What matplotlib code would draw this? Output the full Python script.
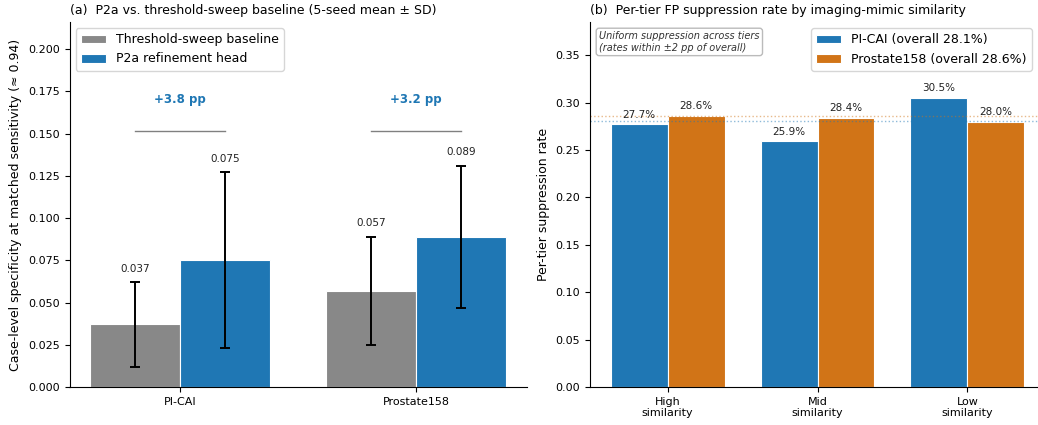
import matplotlib
matplotlib.use("Agg")
import matplotlib.pyplot as plt
import numpy as np

# panel (a)
datasets = ["PI-CAI", "Prostate158"]
base_mean = [0.037, 0.057]
base_sd = [0.025, 0.032]
p2a_mean = [0.075, 0.089]
p2a_sd = [0.052, 0.042]
gain_labels = ["+3.8 pp", "+3.2 pp"]

# panel (b)
tiers = ["High\nsimilarity", "Mid\nsimilarity", "Low\nsimilarity"]
picai_rate = [0.277, 0.259, 0.305]
p158_rate = [0.286, 0.284, 0.280]
picai_overall = 0.281
p158_overall = 0.286

GRAY = "#888888"
BLUE = "#1f77b4"
ORANGE = "#d17417"

fig = plt.figure(figsize=(10.38, 4.25), dpi=100)
ax1 = fig.add_axes([69.5/1038, 38/425, 457/1038, 365/425])
ax2 = fig.add_axes([590/1038, 38/425, 455/1038, 365/425])

w = 0.38
ekw = dict(lw=1.4, capthick=1.4, ecolor="black")
x = np.arange(len(datasets))
ax1.bar(x - w/2, base_mean, w, color=GRAY, edgecolor="white", linewidth=0.8,
        yerr=base_sd, capsize=3.5, error_kw=ekw, label="Threshold-sweep baseline")
ax1.bar(x + w/2, p2a_mean, w, color=BLUE, edgecolor="white", linewidth=0.8,
        yerr=p2a_sd, capsize=3.5, error_kw=ekw, label="P2a refinement head")
for i in range(len(datasets)):
    ax1.text(x[i] - w/2, base_mean[i] + base_sd[i] + 0.005, f"{base_mean[i]:.3f}",
             ha="center", va="bottom", fontsize=7.5, color="#222222")
    ax1.text(x[i] + w/2, p2a_mean[i] + p2a_sd[i] + 0.005, f"{p2a_mean[i]:.3f}",
             ha="center", va="bottom", fontsize=7.5, color="#222222")
    ax1.plot([x[i] - w/2, x[i] + w/2], [0.1515, 0.1515], color="gray", lw=1)
    ax1.text(x[i], 0.170, gain_labels[i], ha="center", va="center",
             fontsize=8.5, fontweight="bold", color=BLUE)
ax1.set_xticks(x)
ax1.set_xticklabels(datasets, fontsize=8)
ax1.set_ylim(0, 0.216)
ax1.set_yticks(np.arange(0, 0.201, 0.025))
ax1.tick_params(axis="y", labelsize=8)
ax1.set_ylabel("Case-level specificity at matched sensitivity (≈ 0.94)", fontsize=9)
ax1.set_title("(a)  P2a vs. threshold-sweep baseline (5-seed mean ± SD)", fontsize=9, loc="left")
ax1.legend(loc="upper left", fontsize=9)
ax1.spines["top"].set_visible(False)
ax1.spines["right"].set_visible(False)

xt = np.arange(len(tiers))
ax2.bar(xt - w/2, picai_rate, w, color=BLUE, edgecolor="white", linewidth=0.8,
        label=f"PI-CAI (overall {picai_overall*100:.1f}%)")
ax2.bar(xt + w/2, p158_rate, w, color=ORANGE, edgecolor="white", linewidth=0.8,
        label=f"Prostate158 (overall {p158_overall*100:.1f}%)")
ax2.axhline(picai_overall, color=BLUE, ls=":", lw=1, alpha=0.5)
ax2.axhline(p158_overall, color=ORANGE, ls=":", lw=1, alpha=0.5)
for i in range(len(tiers)):
    ax2.text(xt[i] - w/2, picai_rate[i] + 0.005, f"{picai_rate[i]*100:.1f}%",
             ha="center", va="bottom", fontsize=7.5, color="#222222")
    ax2.text(xt[i] + w/2, p158_rate[i] + 0.005, f"{p158_rate[i]*100:.1f}%",
             ha="center", va="bottom", fontsize=7.5, color="#222222")
ax2.set_xticks(xt)
ax2.set_xticklabels(tiers, fontsize=8)
ax2.set_ylim(0, 0.385)
ax2.set_yticks(np.arange(0, 0.351, 0.05))
ax2.tick_params(axis="y", labelsize=8)
ax2.set_ylabel("Per-tier suppression rate", fontsize=9)
ax2.set_title("(b)  Per-tier FP suppression rate by imaging-mimic similarity", fontsize=9, loc="left")
ax2.legend(loc="upper right", bbox_to_anchor=(0.985, 1.0), fontsize=9)
ax2.text(0.02, 0.975, "Uniform suppression across tiers\n(rates within ±2 pp of overall)",
         transform=ax2.transAxes, ha="left", va="top", fontsize=7, style="italic",
         color="#333333",
         bbox=dict(boxstyle="round,pad=0.3", facecolor="white", edgecolor="#bbbbbb"))
ax2.spines["top"].set_visible(False)
ax2.spines["right"].set_visible(False)

fig.savefig("out.png", dpi=100)
